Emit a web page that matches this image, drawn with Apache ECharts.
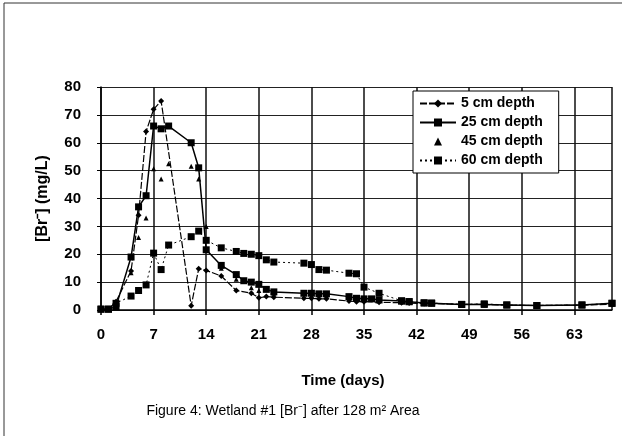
<!DOCTYPE html>
<html>
<head>
<meta charset="utf-8">
<script src="https://cdn.jsdelivr.net/npm/echarts@6/dist/echarts.min.js"></script>
<style>
  html, body { margin: 0; padding: 0; background: #fff; }
  #chart { width: 622px; height: 436px; }
</style>
</head>
<body>
<div id="chart"></div>
<script>
  // days and [Br-] values (mg/L)
  var days5 = [0,1,2,4,5,6,7,8,12,13,14,16,18,20,21,22,23,27,28,29,30,33,34,35,37,40,41,43,44,48,51,54,58,64,68];
  var br5 = [0.3,0.3,3,14,34,64,72,75,1.5,14.8,14.2,12.2,7,6,4.4,4.8,4.6,4.2,4.2,4,4,3.2,3,3,2.8,2.6,2.5,2.3,2.3,2,2,1.8,1.6,1.8,2];

  var days25 = [0,1,2,4,5,6,7,8,9,12,13,14,16,18,19,20,21,22,23,27,28,29,30,33,34,35,36,37,40,41,43,44,48,51,54,58,64,68];
  var br25 = [0.3,0.3,1.2,19,37,41,66,65,66,60,51,21.6,16,12.7,10.5,10,9.2,7.4,6.5,6,6,5.8,5.8,4.8,4.2,4,4,3.6,3.2,3,2.5,2.4,2,2,1.8,1.6,1.8,2.4];

  var days45 = [0,1,2,4,5,6,7,8,9,12,13,14,16,18,20,21,23,28,30,35,37];
  var br45 = [0.3,0.3,1,13.4,26,33,50.7,47,52.5,51.6,47,30,15,11,8,7,6,5,5,4,3.5];

  var days60 = [0,1,2,4,5,6,7,8,9,12,13,14,16,18,19,20,21,22,23,27,28,29,30,33,34,35,37,40,41,43,44,48,51,54,58,64,68];
  var br60 = [0.3,0.3,2.4,5,7,9,20.4,14.5,23.3,26.3,28.3,25,22.3,21,20.3,20,19.5,18,17.2,16.8,16.3,14.5,14.3,13.2,13,8.2,6,3.3,3,2.6,2.5,2,2.2,1.8,1.6,1.8,2.4];

  var seriesNames = ['5 cm depth', '25 cm depth', '45 cm depth', '60 cm depth'];

  function pairs(xs, ys) {
    return xs.map(function (x, i) { return [x, ys[i]]; });
  }

  var chartDom = document.getElementById('chart');
  var myChart = echarts.init(chartDom);

  var boldFont = { fontFamily: 'Liberation Sans', fontWeight: 'bold', color: '#000' };

  var option = {
    backgroundColor: '#fff',
    animation: false,
    title: [
      {
        text: 'Time (days)',
        left: 338, top: 368, textAlign: 'center',
        textStyle: { fontFamily: 'Liberation Sans', fontWeight: 'bold', fontSize: 15, color: '#000' }
      },
      {
        text: 'Figure 4: Wetland #1 [Br\u207B] after 128 m\u00B2 Area',
        left: 278, top: 399, textAlign: 'center',
        textStyle: { fontFamily: 'Liberation Sans', fontWeight: 'normal', fontSize: 14, color: '#000' }
      }
    ],
    graphic: [
      {
        type: 'polyline',
        shape: { points: [[4, 436], [4, 3], [622, 3]] },
        style: { stroke: '#333', lineWidth: 1, fill: null }
      }
    ],
    legend: {
      data: seriesNames,
      orient: 'vertical',
      left: 413, top: 91,
      itemWidth: 36, itemHeight: 10, itemGap: 4,
      padding: [5, 16, 5, 6],
      backgroundColor: '#fff',
      borderColor: '#000', borderWidth: 1,
      textStyle: { fontFamily: 'Liberation Sans', fontWeight: 'bold', fontSize: 14, lineHeight: 15, color: '#000' }
    },
    grid: { left: 101, right: 10, top: 87, bottom: 126 },
    xAxis: {
      type: 'value',
      min: 0, max: 68, interval: 7,
      axisLine: { show: true, lineStyle: { color: '#000', width: 1.5 } },
      axisTick: { show: true, length: 5, lineStyle: { color: '#000', width: 1.5 } },
      axisLabel: Object.assign({ fontSize: 15, margin: 17, showMaxLabel: false }, boldFont),
      splitLine: { show: true, lineStyle: { color: '#111', width: 1.5 } }
    },
    yAxis: {
      type: 'value',
      min: 0, max: 80, interval: 10,
      name: '[Br\u207B] (mg/L)',
      nameLocation: 'middle',
      nameGap: 50,
      nameTextStyle: Object.assign({ fontSize: 16 }, boldFont),
      axisLine: { show: true, lineStyle: { color: '#000', width: 1.5 } },
      axisTick: { show: true, length: 4, lineStyle: { color: '#000' } },
      axisLabel: Object.assign({ fontSize: 15, margin: 20 }, boldFont),
      splitLine: { show: true, lineStyle: { color: '#222', width: 1.2 } }
    },
    series: [
      {
        name: seriesNames[0], type: 'line',
        data: pairs(days5, br5),
        symbol: 'diamond', symbolSize: 6,
        itemStyle: { color: '#000' },
        lineStyle: { color: '#000', width: 1.2, type: [7, 2] }
      },
      {
        name: seriesNames[1], type: 'line',
        data: pairs(days25, br25),
        symbol: 'rect', symbolSize: 7,
        itemStyle: { color: '#000' },
        lineStyle: { color: '#000', width: 1.5, type: 'solid' }
      },
      {
        name: seriesNames[2], type: 'line',
        data: pairs(days45, br45),
        symbol: 'triangle', symbolSize: 5,
        itemStyle: { color: '#000' },
        lineStyle: { width: 0, opacity: 0 }
      },
      {
        name: seriesNames[3], type: 'line',
        data: pairs(days60, br60),
        symbol: 'rect', symbolSize: 7,
        itemStyle: { color: '#000' },
        lineStyle: { color: '#000', width: 1, type: [2, 3] }
      }
    ]
  };

  option && myChart.setOption(option);
</script>
</body>
</html>
